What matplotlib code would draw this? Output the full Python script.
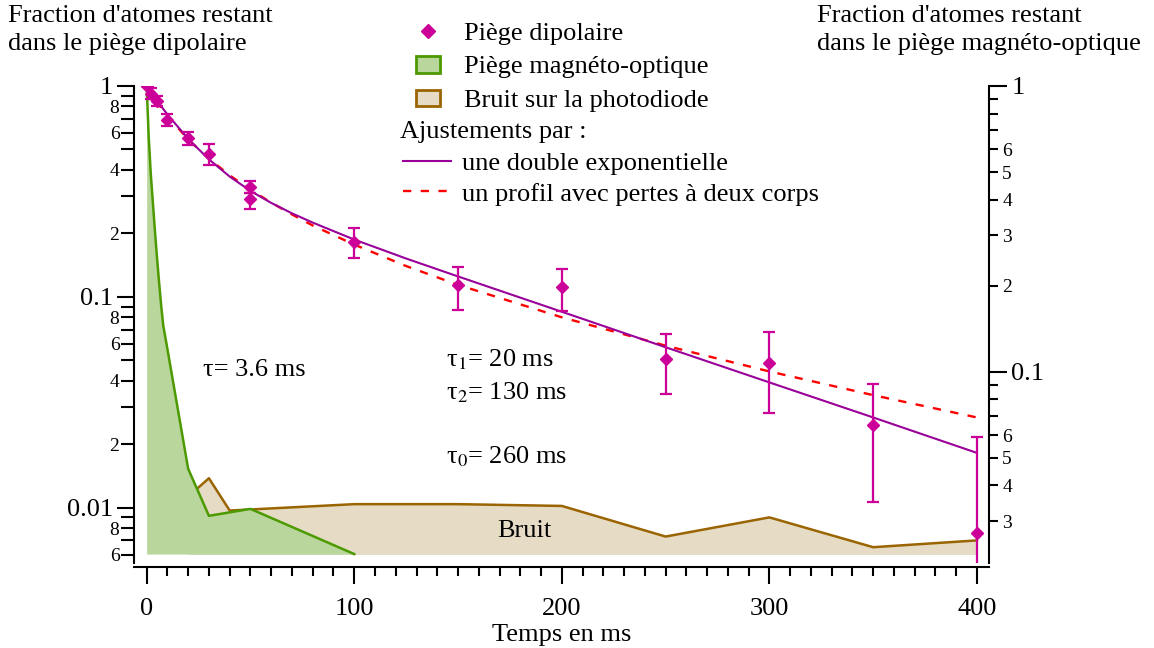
import matplotlib
matplotlib.use('Agg')
import matplotlib.pyplot as plt
from matplotlib.ticker import FixedLocator, FixedFormatter, MultipleLocator
from matplotlib.lines import Line2D
from matplotlib.patches import Patch

plt.rcParams['font.family'] = ['Liberation Serif', 'DejaVu Serif']
plt.rcParams['mathtext.fontset'] = 'stix'

# piège dipolaire (axe de gauche)
t_dip = [0, 2, 5, 10, 20, 30, 50, 50, 100, 150, 200, 250, 300, 350, 400]
n_dip = [1.0, 0.92, 0.85, 0.693, 0.569, 0.476, 0.332, 0.290, 0.183, 0.1136, 0.1109, 0.0509, 0.0484, 0.0246, 0.00755]
n_hi = [1.0, 0.98, 0.90, 0.733, 0.605, 0.528, 0.356, 0.310, 0.213, 0.139, 0.135, 0.0664, 0.0679, 0.0385, 0.0217]
n_lo = [1.0, 0.87, 0.80, 0.646, 0.523, 0.421, 0.310, 0.262, 0.153, 0.0866, 0.0859, 0.0348, 0.0280, 0.0107, 0.0040]

# ajustements
t_fit = [0, 5, 10, 20, 30, 40, 50, 60, 70, 80, 100, 125, 150, 200, 250, 300, 350, 400]
fit_double = [1.0, 0.851, 0.733, 0.561, 0.449, 0.372, 0.318, 0.279, 0.249, 0.225, 0.187, 0.152, 0.125, 0.085, 0.0577, 0.0393, 0.0268, 0.0182]
fit_2corps = [1.0, 0.838, 0.720, 0.558, 0.452, 0.377, 0.322, 0.280, 0.246, 0.218, 0.177, 0.140, 0.114, 0.080, 0.0587, 0.0443, 0.0342, 0.0268]

# piège magnéto-optique (axe de droite)
t_mot = [0, 1, 2, 3, 4, 5, 6, 7, 8, 10, 20, 30, 50, 100]
n_mot = [1.0, 0.66, 0.49, 0.39, 0.31, 0.25, 0.205, 0.17, 0.145, 0.12, 0.0457, 0.0313, 0.0331, 0.0230]
mot_base = 0.0230

# bruit sur la photodiode (axe de gauche)
t_bruit = [20, 30, 40, 100, 150, 200, 250, 300, 350, 400]
n_bruit = [0.0113, 0.0138, 0.0097, 0.0104, 0.0104, 0.0102, 0.0073, 0.0090, 0.0065, 0.0070]
bruit_base = 0.006

left_major = [1, 0.1, 0.01]
left_major_lab = ['1', '0.1', '0.01']
left_minor = [0.9, 0.8, 0.7, 0.6, 0.5, 0.4, 0.3, 0.2,
              0.09, 0.08, 0.07, 0.06, 0.05, 0.04, 0.03, 0.02,
              0.009, 0.008, 0.007, 0.006]
left_minor_lab = ['', '8', '', '6', '', '4', '', '2',
                  '', '8', '', '6', '', '4', '', '2',
                  '', '8', '', '6']
right_major = [1, 0.1]
right_major_lab = ['1', '0.1']
right_minor = [0.9, 0.8, 0.7, 0.6, 0.5, 0.4, 0.3, 0.2,
               0.09, 0.08, 0.07, 0.06, 0.05, 0.04, 0.03]
right_minor_lab = ['', '', '', '6', '5', '4', '3', '2',
                   '', '', '', '6', '5', '4', '3']

magenta = '#cc0099'
purple = '#990099'
green_line = '#4c9a00'
green_fill = '#b9d69c'
brown_line = '#9a6400'
brown_fill = '#e6dcc6'
fs = 19

fig = plt.figure(figsize=(11.54, 6.48), dpi=100)
ax = fig.add_axes([134 / 1154, 1 - 563 / 648, 855 / 1154, 477 / 648])
axr = ax.twinx()
axb = ax.twinx()

ax.set_zorder(3)
axr.set_zorder(2)
axb.set_zorder(1)
for a in (ax, axr, axb):
    a.patch.set_visible(False)
    a.set_yscale('log')
    for s in a.spines.values():
        s.set_visible(False)
        s.set_linewidth(1.5)

ax.set_xlim(-6.1, 405.8)
ax.set_ylim(0.00547, 1.0)
axb.set_ylim(0.00547, 1.0)
axr.set_ylim(0.0214, 1.0)

# bruit
axb.fill_between(t_bruit, n_bruit, bruit_base, color=brown_fill, lw=0)
axb.plot(t_bruit, n_bruit, color=brown_line, lw=1.8)
axb.yaxis.set_visible(False)
axb.text(182, 0.00776, 'Bruit', fontsize=fs, ha='center', va='center')

# MOT
axr.fill_between(t_mot, n_mot, mot_base, color=green_fill, lw=0)
axr.plot(t_mot, n_mot, color=green_line, lw=1.8)

# ajustements et points
ax.plot(t_fit, fit_2corps, color='red', lw=1.7, ls=(0, (3.5, 4)))
ax.plot(t_fit, fit_double, color=purple, lw=1.5)
yerr = [[n - l for n, l in zip(n_dip, n_lo)], [h - n for n, h in zip(n_dip, n_hi)]]
ax.errorbar(t_dip, n_dip, yerr=yerr, fmt='D', color=magenta, ms=6.5,
            capsize=4.5, elinewidth=1.6, capthick=1.6)

ax.text(27, 0.045, 'τ= 3.6 ms', fontsize=fs, va='center')
ax.text(144, 0.0501, 'τ$_1$= 20 ms', fontsize=fs, va='center')
ax.text(144, 0.0350, 'τ$_2$= 130 ms', fontsize=fs, va='center')
ax.text(144, 0.0174, 'τ$_0$= 260 ms', fontsize=fs, va='center')

# axes
ax.spines['left'].set_visible(True)
ax.spines['bottom'].set_visible(True)
ax.spines['bottom'].set_position(('outward', 3))
axr.spines['right'].set_visible(True)

ax.xaxis.set_major_locator(FixedLocator([0, 100, 200, 300, 400]))
ax.xaxis.set_minor_locator(MultipleLocator(10))
ax.tick_params(axis='x', which='major', length=12, width=1.5, labelsize=fs, pad=10)
ax.tick_params(axis='x', which='minor', length=6.5, width=1.5)

ax.yaxis.set_major_locator(FixedLocator(left_major))
ax.yaxis.set_major_formatter(FixedFormatter(left_major_lab))
ax.yaxis.set_minor_locator(FixedLocator(left_minor))
ax.yaxis.set_minor_formatter(FixedFormatter(left_minor_lab))
ax.tick_params(axis='y', which='major', length=12, width=1.5, labelsize=fs, pad=3)
ax.tick_params(axis='y', which='minor', length=9.5, width=1.5, labelsize=14, pad=1)

axr.yaxis.set_major_locator(FixedLocator(right_major))
axr.yaxis.set_major_formatter(FixedFormatter(right_major_lab))
axr.yaxis.set_minor_locator(FixedLocator(right_minor))
axr.yaxis.set_minor_formatter(FixedFormatter(right_minor_lab))
axr.tick_params(axis='y', which='major', length=13, width=1.5, labelsize=fs, pad=3)
axr.tick_params(axis='y', which='minor', length=6.5, width=1.5, labelsize=14, pad=3)

ax.set_xlabel('Temps en ms', fontsize=fs, labelpad=3)

fig.text(8 / 1154, 1 - 5 / 648, "Fraction d'atomes restant\ndans le piège dipolaire",
         fontsize=fs, ha='left', va='top', linespacing=1.35)
fig.text(817 / 1154, 1 - 5 / 648, "Fraction d'atomes restant\ndans le piège magnéto-optique",
         fontsize=fs, ha='left', va='top', linespacing=1.35)

# légende
h1 = [Line2D([], [], marker='D', color=magenta, ls='none', ms=7),
      Patch(facecolor=green_fill, edgecolor=green_line, lw=2),
      Patch(facecolor=brown_fill, edgecolor=brown_line, lw=2)]
fig.legend(h1, ['Piège dipolaire', 'Piège magnéto-optique', 'Bruit sur la photodiode'],
           loc='upper left', bbox_to_anchor=(416 / 1154, 1 - 22 / 648), frameon=False,
           fontsize=fs, handlelength=0.9, handleheight=0.6, handletextpad=0.9,
           labelspacing=0.42, borderpad=0, borderaxespad=0)
fig.text(400 / 1154, 1 - 132 / 648, 'Ajustements par :', fontsize=fs, va='center')
h2 = [Line2D([], [], color=purple, lw=1.5),
      Line2D([], [], color='red', lw=1.7, ls=(0, (3.5, 4)))]
fig.legend(h2, ['une double exponentielle', 'un profil avec pertes à deux corps'],
           loc='upper left', bbox_to_anchor=(403 / 1154, 1 - 152 / 648), frameon=False,
           fontsize=fs, handlelength=1.8, handletextpad=0.45,
           labelspacing=0.25, borderpad=0, borderaxespad=0)

fig.savefig('out.png', dpi=100)
